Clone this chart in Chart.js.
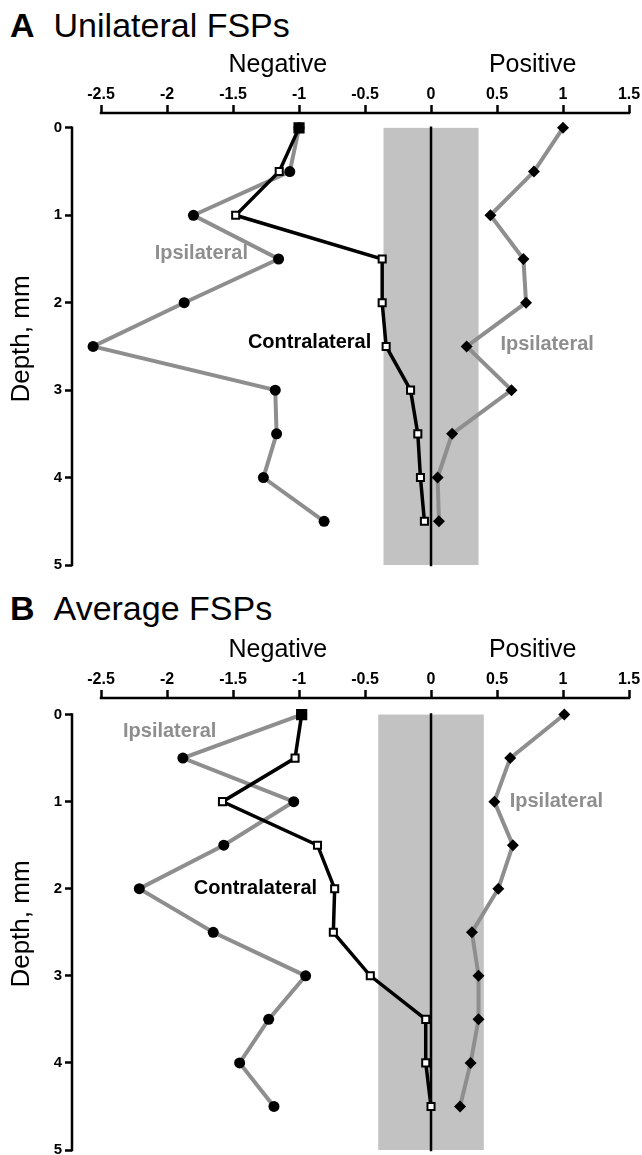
<!DOCTYPE html>
<html>
<head>
<meta charset="utf-8">
<script src="https://cdn.jsdelivr.net/npm/chart.js@4.4.0/dist/chart.umd.min.js"></script>
<style>
body { margin: 0; background: #fff; width: 642px; height: 1155px; overflow: hidden; position: relative; font-family: "Liberation Sans", Arial, sans-serif; }
.ttl { position: absolute; left: 10px; font-size: 34px; line-height: 38px; color: #000; white-space: nowrap; }
.ttl b { margin-right: 19px; }
.panel { position: absolute; left: 0; width: 642px; height: 580px; }
</style>
</head>
<body>
<div class="ttl" style="top:6px"><b>A</b>Unilateral FSPs</div>
<div class="panel" style="top:0px"><canvas id="chartA"></canvas></div>
<div class="ttl" style="top:589px"><b>B</b>Average FSPs</div>
<div class="panel" style="top:585px"><canvas id="chartB"></canvas></div>
<script>
//depth of each site, mm
var depth = [0, 0.5, 1, 1.5, 2, 2.5, 3, 3.5, 4, 4.5];
var xTicks = [-2.5, -2, -1.5, -1, -0.5, 0, 0.5, 1, 1.5];
var yTicks = [0, 1, 2, 3, 4, 5];

//panel A - unilateral FSPs
var contraA = [-1.0, -1.15, -1.48, -0.37, -0.37, -0.34, -0.155, -0.10, -0.08, -0.05];
var ipsiNegA = [-1.0, -1.07, -1.80, -1.155, -1.87, -2.56, -1.18, -1.17, -1.27, -0.81];
var ipsiPosA = [1.0, 0.78, 0.45, 0.70, 0.72, 0.27, 0.61, 0.16, 0.05, 0.06];

//panel B - average FSPs
var contraB = [-0.98, -1.03, -1.58, -0.86, -0.73, -0.74, -0.46, -0.04, -0.04, 0.0];
var ipsiNegB = [-0.98, -1.88, -1.04, -1.57, -2.21, -1.65, -0.95, -1.23, -1.45, -1.19];
var ipsiPosB = [1.01, 0.60, 0.48, 0.62, 0.51, 0.31, 0.36, 0.36, 0.30, 0.22];

var FONT = '"Liberation Sans", Arial, sans-serif';
var GRAY = '#8e8e8e';
Chart.defaults.font.family = FONT;

function pts(vals) {
  return vals.map(function (v, i) { return { x: v, y: depth[i] }; });
}

//band, zero line, axis lines and labels
var decor = {
  id: 'decor',
  beforeDatasetsDraw: function (chart, args, o) {
    var c = chart.ctx, x = chart.scales.x, y = chart.scales.y, a = chart.chartArea;
    var x0 = x.getPixelForValue(-o.band), x1 = x.getPixelForValue(o.band);
    var yt = y.getPixelForValue(0), yb = y.getPixelForValue(5);
    c.save();
    c.fillStyle = '#c2c2c2';
    c.fillRect(x0, yt, x1 - x0, yb - yt);
    c.strokeStyle = '#000';
    c.lineWidth = 2.5;
    c.lineCap = 'square';
    c.beginPath();
    c.moveTo(x.getPixelForValue(0), yt);
    c.lineTo(x.getPixelForValue(0), yb);
    c.moveTo(x.getPixelForValue(-2.5), a.top);
    c.lineTo(x.getPixelForValue(1.5), a.top);
    c.moveTo(a.left, yt);
    c.lineTo(a.left, yb);
    c.stroke();
    c.restore();
  },
  afterDatasetsDraw: function (chart, args, o) {
    var c = chart.ctx, x = chart.scales.x, y = chart.scales.y, top = chart.chartArea.top;
    c.save();
    c.textAlign = 'center';
    c.textBaseline = 'middle';
    c.fillStyle = '#000';
    c.font = '25px ' + FONT;
    c.fillText('Negative', x.getPixelForValue(-1.16), top - 48);
    c.fillText('Positive', x.getPixelForValue(0.77), top - 48);
    c.font = 'bold 20px ' + FONT;
    o.notes.forEach(function (n) {
      c.fillStyle = n.color;
      c.fillText(n.text, x.getPixelForValue(n.x), y.getPixelForValue(n.y));
    });
    c.restore();
  }
};

function makeChart(id, contra, ipsiNeg, ipsiPos, band, yMin, notes) {
  var ctx = document.getElementById(id).getContext('2d');
  return new Chart(ctx, {
    type: 'scatter',
    data: {
      datasets: [{
        label: 'Contralateral',
        data: pts(contra),
        showLine: true,
        borderColor: '#000',
        borderWidth: 3.5,
        pointStyle: 'rect',
        pointRadius: contra.map(function (v, i) { return i === 0 ? 6.5 : 5; }),
        pointBorderWidth: 2,
        pointBorderColor: '#000',
        pointBackgroundColor: contra.map(function (v, i) { return i === 0 ? '#000' : '#fff'; }),
        order: 0
      }, {
        label: 'Ipsilateral negative',
        data: pts(ipsiNeg),
        showLine: true,
        borderColor: GRAY,
        borderWidth: 4,
        pointStyle: 'circle',
        pointRadius: 5.5,
        pointBorderWidth: 0,
        pointBorderColor: '#000',
        pointBackgroundColor: '#000',
        order: 1
      }, {
        label: 'Ipsilateral positive',
        data: pts(ipsiPos),
        showLine: true,
        borderColor: GRAY,
        borderWidth: 4,
        pointStyle: 'rectRot',
        pointRadius: 6,
        pointBorderWidth: 0,
        pointBorderColor: '#000',
        pointBackgroundColor: '#000',
        order: 1
      }]
    },
    options: {
      responsive: true,
      maintainAspectRatio: false,
      animation: false,
      layout: { padding: { left: 0, right: 13, top: 0, bottom: 15 } },
      plugins: {
        legend: { display: false },
        tooltip: { enabled: false },
        decor: { band: band, notes: notes }
      },
      scales: {
        x: {
          type: 'linear',
          position: 'top',
          min: -2.72,
          max: 1.5,
          afterBuildTicks: function (s) { s.ticks = xTicks.map(function (v) { return { value: v }; }); },
          afterFit: function (s) { s.height = 113; },
          border: { display: false },
          grid: { drawOnChartArea: false, drawTicks: true, tickLength: 8, tickWidth: 2.5, tickColor: '#000', color: '#000' },
          ticks: { color: '#000', padding: 1, maxRotation: 0, autoSkip: false, font: { size: 16, weight: 'bold' },
                   callback: function (v) { return String(v); } }
        },
        y: {
          type: 'linear',
          reverse: true,
          min: yMin,
          max: 5,
          afterBuildTicks: function (s) { s.ticks = yTicks.map(function (v) { return { value: v }; }); },
          afterFit: function (s) { s.width = 72; },
          border: { display: false },
          grid: { drawOnChartArea: false, drawTicks: true, tickLength: 7, tickWidth: 2.5, tickColor: '#000', color: '#000' },
          ticks: { color: '#000', padding: 3, autoSkip: false, font: { size: 15, weight: 'bold' },
                   callback: function (v) { return String(v); } },
          title: { display: true, text: 'Depth, mm', color: '#000', font: { size: 26 }, padding: { top: 6, bottom: 0 } }
        }
      }
    },
    plugins: [decor]
  });
}

makeChart('chartA', contraA, ipsiNegA, ipsiPosA, 0.36, -0.17, [
  { text: 'Ipsilateral', x: -1.74, y: 1.44, color: GRAY },
  { text: 'Contralateral', x: -0.92, y: 2.46, color: '#000' },
  { text: 'Ipsilateral', x: 0.88, y: 2.48, color: GRAY }
]);
makeChart('chartB', contraB, ipsiNegB, ipsiPosB, 0.40, -0.19, [
  { text: 'Ipsilateral', x: -1.98, y: 0.19, color: GRAY },
  { text: 'Contralateral', x: -1.33, y: 2.0, color: '#000' },
  { text: 'Ipsilateral', x: 0.95, y: 1.0, color: GRAY }
]);
</script>
</body>
</html>
